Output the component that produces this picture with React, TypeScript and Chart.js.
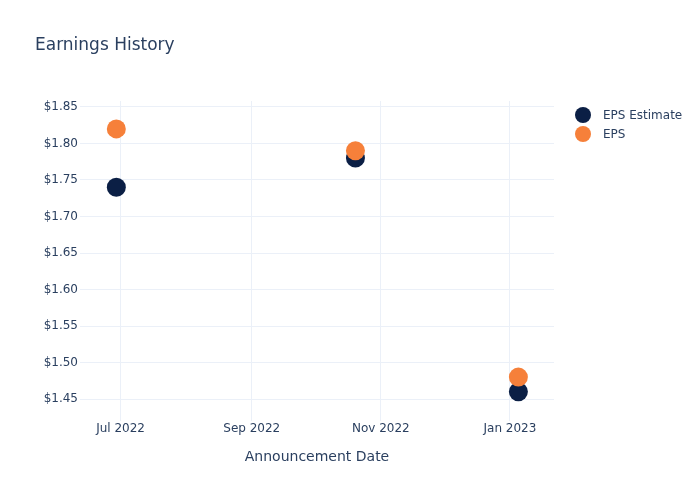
import React, { useEffect, useRef } from "react";
import { Chart, registerables } from "chart.js";

Chart.register(...registerables);

const chartTitle = "Earnings History";
const xAxisTitle = "Announcement Date";
const announcementDates = ["2022-06-29", "2022-10-20", "2023-01-05"];
const epsEstimate = [1.74, 1.78, 1.46];
const epsActual = [1.82, 1.79, 1.48];
const seriesNames = ["EPS Estimate", "EPS"];
const seriesColors = ["#0b1f45", "#f6803a"];
const yTickValues = [1.45, 1.5, 1.55, 1.6, 1.65, 1.7, 1.75, 1.8, 1.85];
const xTickDates = ["2022-07-01", "2022-09-01", "2022-11-01", "2023-01-01"];
const xTickLabels = ["Jul 2022", "Sep 2022", "Nov 2022", "Jan 2023"];
const xRange = ["2022-06-11T20:00:00Z", "2023-01-21T20:00:00Z"];
const yRange = [1.4199, 1.8582];

const FONT = "'DejaVu Sans', 'Open Sans', Verdana, sans-serif";
const TEXT = "#2a3f5f";
const GRID = "#ebf0f8";

const toMs = (d: string) => Date.parse(d);

const overlayPlugin = {
  id: "overlayText",
  afterDraw(chart: any) {
    const ctx = chart.ctx;
    ctx.save();
    ctx.fillStyle = TEXT;
    ctx.textBaseline = "middle";
    ctx.textAlign = "left";
    ctx.font = `17px ${FONT}`;
    ctx.fillText(chartTitle, 35, 46);

    ctx.font = `14px ${FONT}`;
    ctx.textAlign = "center";
    const area = chart.chartArea;
    ctx.fillText(xAxisTitle, (area.left + area.right) / 2, 457);

    ctx.font = `12px ${FONT}`;
    ctx.textAlign = "left";
    seriesNames.forEach((name, i) => {
      const y = 115 + i * 19;
      ctx.beginPath();
      ctx.arc(583, y, 8, 0, Math.PI * 2);
      ctx.fillStyle = seriesColors[i];
      ctx.fill();
      ctx.fillStyle = TEXT;
      ctx.fillText(name, 603, y + 1);
    });
    ctx.restore();
  },
};

export default function App() {
  const ref = useRef<HTMLCanvasElement | null>(null);

  useEffect(() => {
    document.body.style.margin = "0";
    if (!ref.current) return;
    const chart = new Chart(ref.current, {
      type: "scatter",
      data: {
        datasets: [
          {
            label: seriesNames[0],
            data: announcementDates.map((d, i) => ({ x: toMs(d), y: epsEstimate[i] })),
            backgroundColor: seriesColors[0],
            borderColor: seriesColors[0],
            pointRadius: 9.5,
            pointHoverRadius: 9.5,
            borderWidth: 0,
            order: 1,
          },
          {
            label: seriesNames[1],
            data: announcementDates.map((d, i) => ({ x: toMs(d), y: epsActual[i] })),
            backgroundColor: seriesColors[1],
            borderColor: seriesColors[1],
            pointRadius: 9.5,
            pointHoverRadius: 9.5,
            borderWidth: 0,
            order: 0,
          },
        ],
      },
      options: {
        responsive: false,
        animation: false,
        layout: { padding: { left: 0, top: 101, right: 146, bottom: 0 } },
        plugins: {
          legend: { display: false },
          title: { display: false },
          tooltip: { enabled: false },
        },
        scales: {
          x: {
            type: "linear",
            min: toMs(xRange[0]),
            max: toMs(xRange[1]),
            border: { display: false },
            grid: { color: GRID, drawTicks: false, lineWidth: 1 },
            afterBuildTicks: (scale: any) => {
              scale.ticks = xTickDates.map((d) => ({ value: toMs(d) }));
            },
            afterFit: (scale: any) => {
              scale.height = 79;
            },
            ticks: {
              autoSkip: false,
              maxRotation: 0,
              padding: 1,
              color: TEXT,
              font: { family: FONT, size: 12 },
              callback: (v: any) => {
                const i = xTickDates.findIndex((d) => toMs(d) === v);
                return i >= 0 ? xTickLabels[i] : "";
              },
            },
          },
          y: {
            type: "linear",
            min: yRange[0],
            max: yRange[1],
            border: { display: false },
            grid: { color: GRID, drawTicks: false, lineWidth: 1 },
            afterBuildTicks: (scale: any) => {
              scale.ticks = yTickValues.map((v) => ({ value: v }));
            },
            afterFit: (scale: any) => {
              scale.width = 80;
            },
            ticks: {
              padding: 2,
              color: TEXT,
              font: { family: FONT, size: 12 },
              callback: (v: any) => "$" + Number(v).toFixed(2),
            },
          },
        },
      },
      plugins: [overlayPlugin],
    } as any);
    return () => chart.destroy();
  }, []);

  return (
    <div style={{ width: 700, height: 500, background: "#fff" }}>
      <canvas ref={ref} width={700} height={500} style={{ display: "block" }} />
    </div>
  );
}
